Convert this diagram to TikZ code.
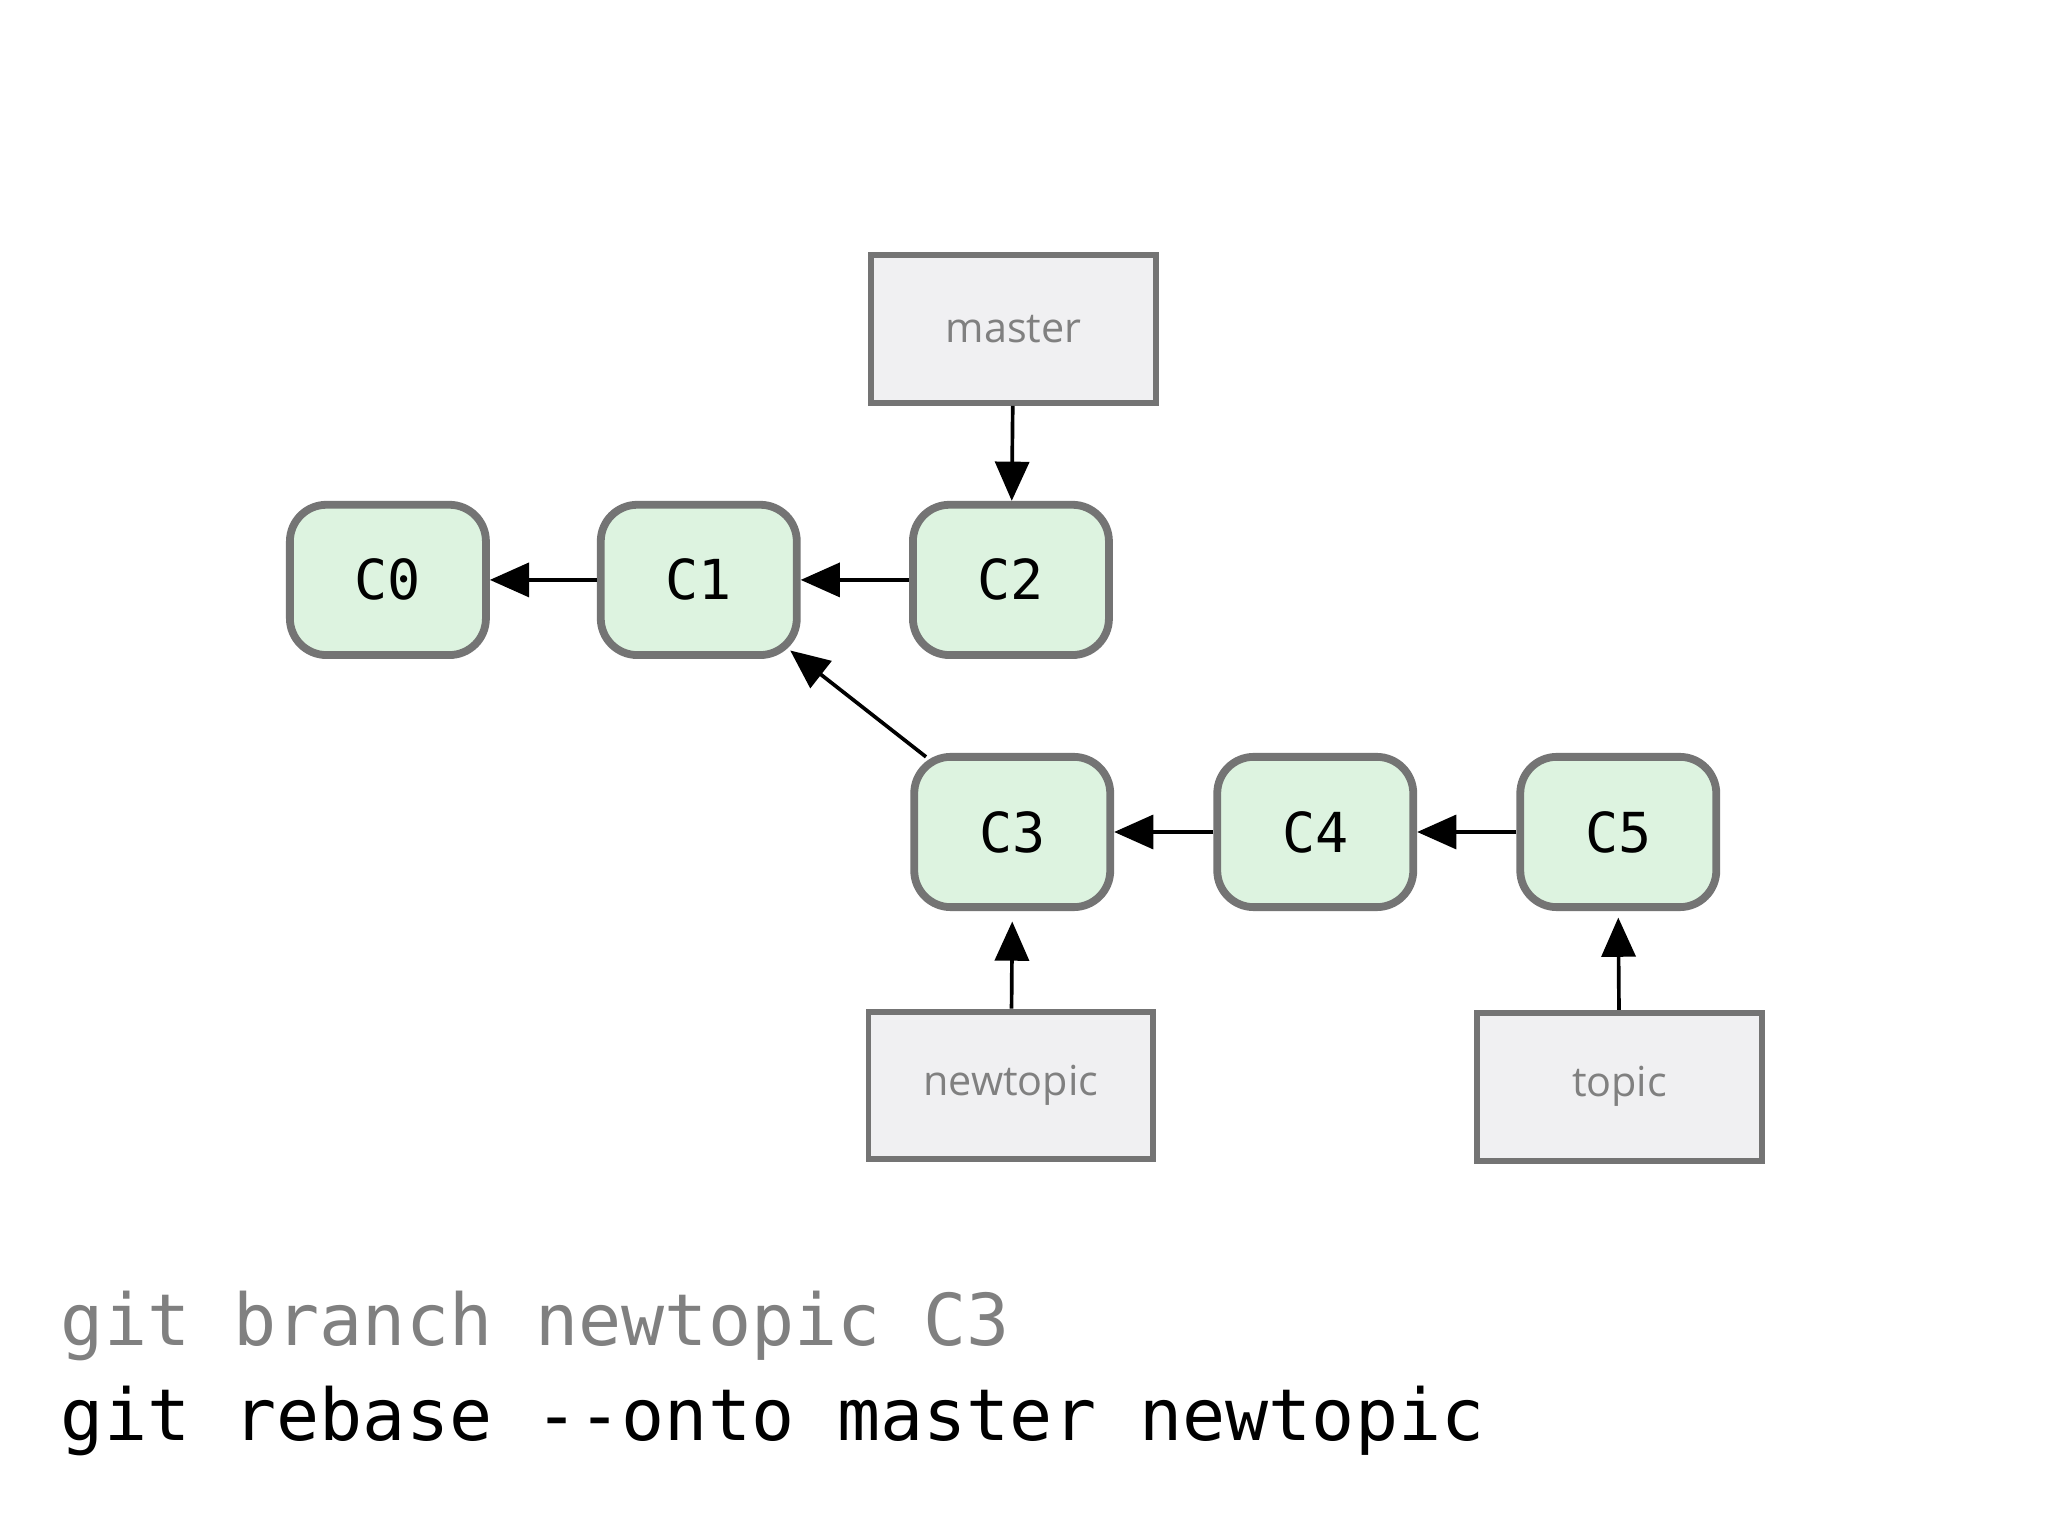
\documentclass[tikz,border=0pt]{standalone}
\usepackage{fontspec}
\setmainfont{Open Sans}
\newfontfamily\monofont{DejaVu Sans Mono}
\usetikzlibrary{arrows.meta}
\definecolor{commitfill}{HTML}{DDF3E0}
\definecolor{edgegray}{HTML}{747474}
\definecolor{reffill}{HTML}{F0F0F2}
\definecolor{labelgray}{HTML}{808080}
\tikzset{
  commit/.style={draw=edgegray, line width=1.7pt, fill=commitfill, rounded corners=0.28cm,
    minimum width=1.5cm, minimum height=1.15cm, inner sep=0pt,
    font=\monofont\fontsize{12}{14}\selectfont},
  branch/.style={draw=edgegray, line width=1.3pt, fill=reffill, minimum width=2.18cm,
    minimum height=1.13cm, inner sep=0pt, text=labelgray, font=\fontsize{9}{11}\selectfont},
  link/.style={-{Triangle[length=0.3cm,width=0.26cm]}, line width=0.8pt, black}
}
\begin{document}
\begin{tikzpicture}[x=0.01cm, y=-0.01cm]
  \useasboundingbox[fill=white] (0,0) rectangle (1568,1176);

  % Commits
  \node[commit] (c0) at (297,444) {C0};
  \node[commit] (c1) at (535,444) {C1};
  \node[commit] (c2) at (774,444) {C2};
  \node[commit] (c3) at (775,637) {C3};
  \node[commit] (c4) at (1007,637) {C4};
  \node[commit] (c5) at (1239,637) {C5};

  % Branch refs
  \node[branch] (master) at (776,252) {master};
  \node[branch] (newtopic) at (774,831) {newtopic};
  \node[branch] (topic) at (1240,832) {topic};

  % Parent links
  \draw[link] (c1) -- (c0);
  \draw[link] (c2) -- (c1);
  \draw[link] (c3.north west) ++(12,3) -- (605,498);
  \draw[link] (c4) -- (c3);
  \draw[link] (c5) -- (c4);

  % Ref links
  \draw[link] (master) -- (c2);
  \draw[link] (newtopic) -- ([yshift=-0.08cm]c3.south);
  \draw[link] (topic) -- ([yshift=-0.05cm]c5.south);

  % Commands
  \node[anchor=base west, inner sep=0pt, text=labelgray, font=\monofont\fontsize{15.6}{18}\selectfont]
    (cmda) at (46,1030) {git branch newtopic C3};
  \node[anchor=base west, inner sep=0pt, font=\monofont\fontsize{15.6}{18}\selectfont]
    (cmdb) at (46,1103) {git rebase --onto master newtopic};
\end{tikzpicture}
\end{document}
